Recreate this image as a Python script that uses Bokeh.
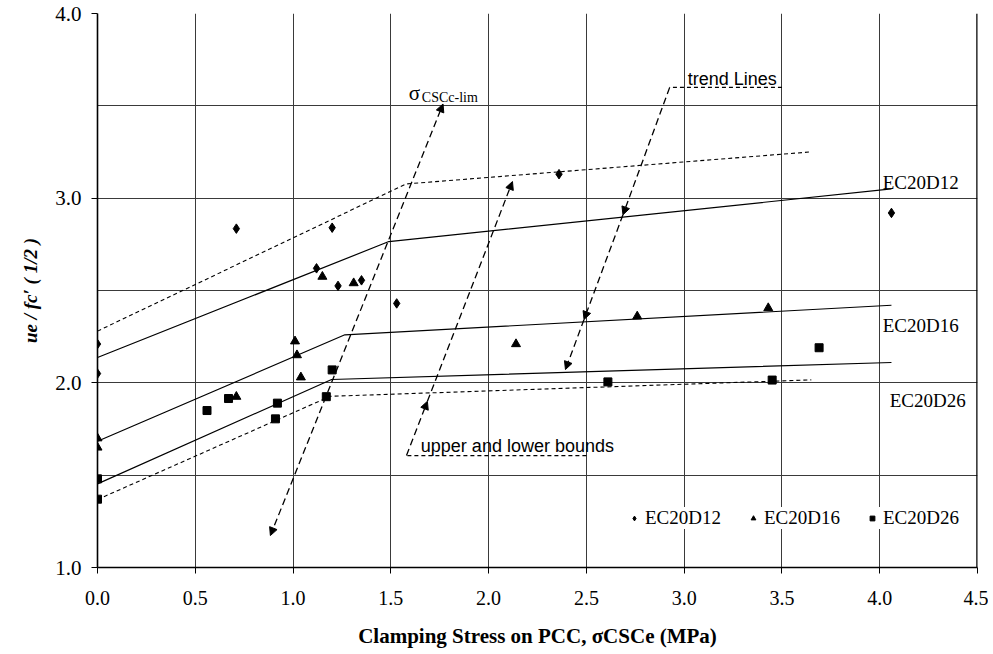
import numpy as np
from bokeh.plotting import figure
from bokeh.models import (Range1d, Label, Arrow, NormalHead, Span, Legend, LegendItem,
                          FixedTicker)
from bokeh.embed import file_html
from bokeh.resources import INLINE

# ---------------- data ----------------
d12_x = [0.00, 0.00, 0.71, 1.12, 1.20, 1.23, 1.35, 1.53, 2.36, 4.06]
d12_y = [2.21, 2.05, 2.835, 2.62, 2.84, 2.525, 2.555, 2.43, 3.13, 2.92]
d16_x = [0.00, 0.00, 0.71, 1.01, 1.02, 1.04, 1.15, 1.31, 2.14, 2.76, 3.43]
d16_y = [1.70, 1.65, 1.925, 2.225, 2.15, 2.03, 2.575, 2.54, 2.21, 2.36, 2.405]
d26_x = [0.00, 0.00, 0.56, 0.67, 0.92, 0.91, 1.17, 1.20, 2.61, 3.45, 3.69]
d26_y = [1.48, 1.37, 1.85, 1.915, 1.89, 1.805, 1.925, 2.07, 2.005, 2.015, 2.19]

trend12_x = [0.0, 1.49, 4.06]
trend12_y = [2.137, 2.765, 3.05]
trend16_x = [0.0, 1.265, 4.06]
trend16_y = [1.684, 2.26, 2.42]
trend26_x = [0.0, 1.197, 4.06]
trend26_y = [1.453, 2.018, 2.11]

upper_x = [0.0, 1.578, 3.642]
upper_y = [2.28, 3.077, 3.25]
lower_x = [0.0, 1.19, 3.65]
lower_y = [1.368, 1.927, 2.016]

# annotation leader lines
sigma_leader_x = [0.884, 1.767]
sigma_leader_y = [1.173, 3.51]
trend_leader_x = [3.50, 2.926, 2.687, 2.488, 2.393]
trend_leader_y = [3.60, 3.60, 2.91, 2.343, 2.072]
bounds_leader_x = [2.50, 1.58, 1.687, 2.122]
bounds_leader_y = [1.606, 1.606, 1.90, 3.09]

x_ticks = [0.0, 0.5, 1.0, 1.5, 2.0, 2.5, 3.0, 3.5, 4.0, 4.5]
x_tick_labels = ["0.0", "0.5", "1.0", "1.5", "2.0", "2.5", "3.0", "3.5", "4.0", "4.5"]
y_ticks = [1.0, 2.0, 3.0, 4.0]
y_tick_labels = ["1.0", "2.0", "3.0", "4.0"]
y_minor = [1.5, 2.5, 3.5]

series_names = ["EC20D12", "EC20D16", "EC20D26"]
x_title = "Clamping Stress on PCC, σCSCe (MPa)"
y_title = "ue / fc′ ( 1/2 )"

SERIF = "Liberation Serif"
SANS = "Liberation Sans"

W, H = 988, 652

# page-pixel helpers -> data units
def xd(px):
    return (px - 97.6) / 195.6

def yd(py):
    return 1 + (567.5 - py) / 184.8

p = figure(width=W, height=H, x_range=Range1d(0, 4.5), y_range=Range1d(1, 4),
           output_backend="svg", toolbar_location=None,
           min_border_left=97, min_border_right=11, min_border_top=13, min_border_bottom=85)
p.outline_line_color = None
p.background_fill_color = "white"

# axes
p.xaxis.ticker = FixedTicker(ticks=x_ticks)
p.xaxis.major_label_overrides = {t: l for t, l in zip(x_ticks, x_tick_labels)}
p.yaxis.ticker = FixedTicker(ticks=y_ticks, minor_ticks=y_minor)
p.yaxis.major_label_overrides = {t: l for t, l in zip(y_ticks, y_tick_labels)}
for ax in (p.xaxis, p.yaxis):
    ax.axis_line_color = "black"
    ax.axis_line_width = 1.6
    ax.major_tick_line_color = "black"
    ax.major_tick_in = 0
    ax.major_tick_out = 6
    ax.minor_tick_in = 0
    ax.minor_tick_out = 0
    ax.major_label_text_font = SERIF
    ax.major_label_text_color = "black"
    ax.axis_label_text_font = SERIF
    ax.axis_label_text_color = "black"
p.xaxis.major_label_text_font_size = "20px"
p.yaxis.major_label_text_font_size = "21px"
p.xaxis.major_label_standoff = 17
p.yaxis.major_label_standoff = 10

p.xaxis.axis_label = x_title
p.xaxis.axis_label_text_font_size = "21px"
p.xaxis.axis_label_text_font_style = "bold"
p.xaxis.axis_label_standoff = 16

p.yaxis.axis_label = y_title
p.yaxis.axis_label_text_font_size = "19px"
p.yaxis.axis_label_text_font_style = "bold italic"
p.yaxis.axis_label_standoff = 11

p.xgrid.ticker = FixedTicker(ticks=x_ticks)
p.xgrid.grid_line_color = "#3a3a3a"
p.xgrid.grid_line_width = 1
p.ygrid.ticker = FixedTicker(ticks=y_ticks, minor_ticks=y_minor)
p.ygrid.grid_line_color = "#3a3a3a"
p.ygrid.minor_grid_line_color = "#3a3a3a"
p.ygrid.grid_line_width = 1

# right border
p.add_layout(Span(location=4.5, dimension="height", line_color="black", line_width=2.5))

# trend lines
for tx, ty in ((trend12_x, trend12_y), (trend16_x, trend16_y), (trend26_x, trend26_y)):
    p.line(tx, ty, line_color="black", line_width=1.2)
# bounds
p.line(upper_x, upper_y, line_color="black", line_width=1.1, line_dash="4 3")
p.line(lower_x, lower_y, line_color="black", line_width=1.1, line_dash="4 3")

# markers
r12 = p.scatter(d12_x, d12_y, marker="diamond", size=9.5, color="black")
r16 = p.scatter(d16_x, d16_y, marker="triangle", size=9, color="black")
r26 = p.scatter(d26_x, d26_y, marker="square", size=8, color="black")

def head():
    return NormalHead(size=8, fill_color="black", line_color="black", line_width=1)

LEADER_DASH = "7 4"
p.add_layout(Arrow(start=head(), end=head(),
                   x_start=sigma_leader_x[0], y_start=sigma_leader_y[0],
                   x_end=sigma_leader_x[1], y_end=sigma_leader_y[1],
                   line_color="black", line_width=1.3, line_dash=LEADER_DASH))
p.line(trend_leader_x[:2], trend_leader_y[:2], line_color="black", line_width=1.1, line_dash="4 3")
for i in range(1, len(trend_leader_x) - 1):
    p.add_layout(Arrow(end=head(), start=None,
                       x_start=trend_leader_x[i], y_start=trend_leader_y[i],
                       x_end=trend_leader_x[i + 1], y_end=trend_leader_y[i + 1],
                       line_color="black", line_width=1.3, line_dash=LEADER_DASH))
p.line(bounds_leader_x[:2], bounds_leader_y[:2], line_color="black", line_width=1.1, line_dash="4 3")
for i in range(1, len(bounds_leader_x) - 1):
    p.add_layout(Arrow(end=head(), start=None,
                       x_start=bounds_leader_x[i], y_start=bounds_leader_y[i],
                       x_end=bounds_leader_x[i + 1], y_end=bounds_leader_y[i + 1],
                       line_color="black", line_width=1.3, line_dash=LEADER_DASH))

def lab(x, y, text, size, font=SERIF, style="normal"):
    p.add_layout(Label(x=x, y=y, text=text, text_font=font, text_font_size=size,
                       text_font_style=style, text_color="black",
                       text_align="left", text_baseline="alphabetic"))

# series labels at line ends
lab(xd(883), yd(182), series_names[0], "19px")
lab(xd(883), yd(325.5), series_names[1], "19px")
lab(xd(890), yd(400.5), series_names[2], "19px")

# annotations
lab(xd(409), yd(93), "σ", "21px")
lab(xd(422), yd(97), "CSCc-lim", "14px")
lab(xd(688), yd(79), "trend Lines", "18px", font=SANS)
lab(xd(421), yd(446), "upper and lower bounds", "18px", font=SANS)

# legend
legend = Legend(items=[LegendItem(label=series_names[0], renderers=[r12]),
                       LegendItem(label=series_names[1], renderers=[r16]),
                       LegendItem(label=series_names[2], renderers=[r26])],
                orientation="horizontal", location=(531, 38))
legend.label_text_font = SERIF
legend.label_text_font_size = "19px"
legend.label_text_color = "black"
legend.border_line_color = None
legend.background_fill_color = "white"
legend.background_fill_alpha = 1
legend.glyph_width = 12
legend.glyph_height = 20
legend.label_standoff = 5
legend.spacing = 26
legend.padding = 3
legend.margin = 0
p.add_layout(legend, "center")

open("out.html", "w").write(file_html(p, INLINE))
